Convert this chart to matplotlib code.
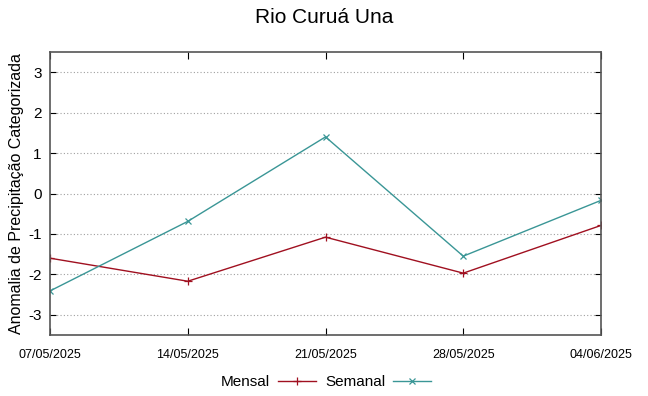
import matplotlib
matplotlib.use("Agg")
from matplotlib import pyplot as plt

dates = ["07/05/2025", "14/05/2025", "21/05/2025", "28/05/2025", "04/06/2025"]
mensal = [-1.60, -2.17, -1.08, -1.97, -0.79]
semanal = [-2.41, -0.69, 1.40, -1.55, -0.17]
yticks = [-3, -2, -1, 0, 1, 2, 3]

plt.rcParams["font.family"] = ["Liberation Sans", "DejaVu Sans"]
plt.rcParams["axes.unicode_minus"] = False

fig = plt.figure(figsize=(6.48, 3.96), dpi=100)
ax = fig.add_axes([50 / 648, 61 / 396, 551 / 648, 283 / 396])

x = list(range(len(dates)))
ax.plot(x, mensal, color="#a01020", lw=1, marker="+", ms=6, mew=0.9, label="Mensal")
ax.plot(x, semanal, color="#3a9696", lw=1, marker="x", ms=5, mew=0.9, label="Semanal")

ax.set_xlim(0, len(dates) - 1)
ax.set_ylim(-3.5, 3.5)
ax.set_xticks(x)
ax.set_xticklabels(dates, fontsize=9)
ax.set_yticks(yticks)
ax.tick_params(axis="y", labelsize=11, direction="in", length=4, right=True, pad=6)
ax.tick_params(axis="x", direction="in", length=5, top=True, pad=10)
ax.yaxis.grid(True, linestyle=(0, (1, 2)), color="#a0a0a0", lw=0.8)

for s in ax.spines.values():
    s.set_color("#555555")
    s.set_linewidth(1.2)

ax.set_ylabel("Anomalia de Precipitação Categorizada", fontsize=11.5, labelpad=3)
fig.text(0.5, 0.955, "Rio Curuá Una", ha="center", va="center", fontsize=15)

fig.legend(loc="center", bbox_to_anchor=(0.503, 0.035), ncol=2, frameon=False,
           markerfirst=False, handlelength=2.5, columnspacing=0.6,
           handletextpad=0.5, prop={"size": 11})

fig.savefig("out.png", dpi=100)
